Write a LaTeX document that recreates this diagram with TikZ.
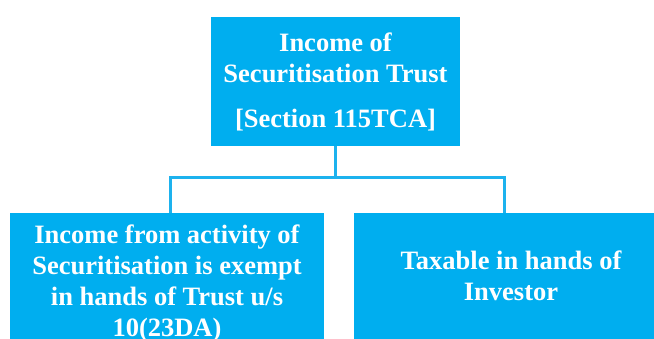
\documentclass[tikz,border=0pt]{standalone}
\usepackage{fontspec}
\setmainfont{Liberation Serif}
\definecolor{boxblue}{HTML}{00AEEF}
\definecolor{lineblue}{HTML}{1DB2EE}

\begin{document}
\begin{tikzpicture}[x=1pt,y=1pt]

\tikzset{box/.style = {shape=rectangle,fill=boxblue,text=white,align=center,inner sep=0pt,font=\bfseries\fontsize{26.5}{31}\selectfont}}
\tikzset{link/.style = {draw=lineblue,line width=3pt}}
\useasboundingbox (0,0) rectangle (654,339);
% boxes
\node[box, minimum width=249pt, minimum height=129pt] (income) at (335.5,257.5) {Income of\\Securitisation Trust\\[14pt][Section 115TCA]};
\node[box, minimum width=314pt, minimum height=140pt, anchor=north] (exempt) at (167,126) {Income from activity of\\Securitisation is exempt\\in hands of Trust u/s\\10(23DA)};
\node[box, minimum width=300pt, minimum height=126pt, anchor=north] (taxable) at (504,126) {\hspace*{14pt}Taxable in hands of\\\hspace*{14pt}Investor};
\coordinate (split) at (335.5,161);
%edges
\draw[link] (income.south) -- (split);
\draw[link] ([xshift=3pt]exempt.north) |- (split) -| (taxable.north);
\end{tikzpicture}
\end{document}
